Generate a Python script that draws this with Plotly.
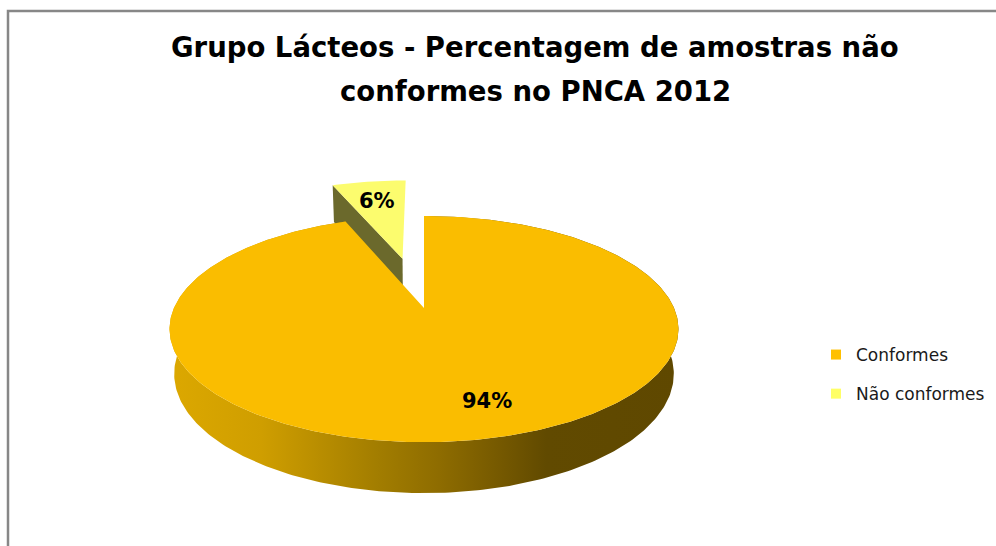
import numpy as np
import plotly.graph_objects as go

# ---------------- data ----------------
categories = ["Conformes", "Não conformes"]
values = [94, 6]
label_texts = ["94%", "6%"]
explode = [0.0, 0.5]

title_lines = ["Grupo Lácteos - Percentagem de amostras não",
               "conformes no PNCA 2012"]

# ---------------- styles ----------------
top_colors = ["#FABD00", "#FCFC6E"]
cut_colors = ["#8A6A00", "#6B692C"]
legend_colors = ["#FFC000", "#FFFF66"]
wall_scale = [[0.0, "#DCA800"], [0.18, "#CF9E00"], [0.41, "#A27D00"],
              [0.53, "#8E6C00"], [0.66, "#735700"], [0.74, "#614A00"],
              [1.0, "#5F4800"]]
FONT = "DejaVu Sans"

# camera / projection (pixel space)
W, Hh = 996, 546
ALPHA = np.radians(25.9)
DIST = 4.834
FOC = 1208.6
CX, CY = 424, 308
THICK = 0.199
label_r = [0.75, 0.72]
label_shift = [(22, 0), (0, 0)]
title_y = [47, 91]


def proj(X, Y, Z):
    s, c = np.sin(ALPHA), np.cos(ALPHA)
    yc = Y * c - Z * s
    depth = DIST - (Y * s + Z * c)
    return CX + FOC * X / depth, CY - FOC * yc / depth


def direction(phi):
    return np.sin(phi), -np.cos(phi)


total = float(sum(values))
bounds = np.concatenate([[0], np.cumsum(values)]) / total * 2 * np.pi

fig = go.Figure()


def slice_parts(k):
    a0, a1 = bounds[k], bounds[k + 1]
    mid = (a0 + a1) / 2
    mx, mz = direction(mid)
    ox, oz = explode[k] * mx, explode[k] * mz
    phis = np.linspace(a0, a1, max(8, int((a1 - a0) / (2 * np.pi) * 400)))
    rx, rz = direction(phis)
    return a0, a1, mid, ox, oz, phis, rx, rz


# small (exploded) slice first -- it is behind
order = [1, 0]
for k in order:
    a0, a1, mid, ox, oz, phis, rx, rz = slice_parts(k)
    if k == 1:
        # visible radial cut face at start angle a0
        ex, ez = direction(a0)
        px = [ox, ox + ex, ox + ex, ox, ox]
        py = [0, 0, -THICK, -THICK, 0]
        pz = [oz, oz + ez, oz + ez, oz, oz]
        sx, sy = proj(np.array(px), np.array(py), np.array(pz))
        fig.add_trace(go.Scatter(x=sx, y=sy, mode="lines", fill="toself",
                                 fillcolor=cut_colors[k], line=dict(width=0),
                                 hoverinfo="skip", showlegend=False))
    else:
        # outer wall
        tx, ty = proj(ox + rx, 0 * rx, oz + rz)
        bx, by = proj(ox + rx, 0 * rx - THICK, oz + rz)
        wx = np.concatenate([tx, bx[::-1], tx[:1]])
        wy = np.concatenate([ty, by[::-1], ty[:1]])
        fig.add_trace(go.Scatter(x=wx, y=wy, mode="lines", fill="toself",
                                 fillgradient=dict(type="horizontal", colorscale=wall_scale),
                                 line=dict(width=0), hoverinfo="skip", showlegend=False))
    # top face
    fx = np.concatenate([[ox], ox + rx, [ox]])
    fz = np.concatenate([[oz], oz + rz, [oz]])
    sx, sy = proj(fx, 0 * fx, fz)
    fig.add_trace(go.Scatter(x=sx, y=sy, mode="lines", fill="toself",
                             fillcolor=top_colors[k], line=dict(width=0),
                             hoverinfo="skip", showlegend=False))

# data labels
for k in range(len(values)):
    a0, a1 = bounds[k], bounds[k + 1]
    mid = (a0 + a1) / 2
    mx, mz = direction(mid)
    rr = label_r[k] + explode[k]
    lx, ly = proj(rr * mx, 0.0, rr * mz)
    fig.add_annotation(x=lx, y=ly, text=label_texts[k], showarrow=False,
                       xshift=label_shift[k][0], yshift=label_shift[k][1],
                       font=dict(family=FONT, size=21, color="#000000", weight="bold"))

# title (two lines, Excel-like spacing)
for line, yy in zip(title_lines, title_y):
    fig.add_annotation(x=535, y=yy, text=line, showarrow=False,
                       xanchor="center", yanchor="middle",
                       font=dict(family=FONT, size=27.5, color="#000000", weight="bold"))

# legend entries
for k, name in enumerate(categories):
    fig.add_trace(go.Scatter(x=[None], y=[None], mode="markers", name=name,
                             legendgroup=name,
                             marker=dict(symbol="square", size=10, color=legend_colors[k])))

# chart frame
fig.add_shape(type="rect", xref="paper", yref="paper", x0=8 / W, x1=1.05,
              y0=-0.05, y1=1 - 11 / Hh, line=dict(color="#878787", width=2.5),
              layer="below")

fig.update_layout(
    width=W, height=Hh,
    margin=dict(l=0, r=0, t=0, b=0),
    paper_bgcolor="white", plot_bgcolor="white",
    xaxis=dict(range=[0, W], visible=False, fixedrange=True),
    yaxis=dict(range=[Hh, 0], visible=False, fixedrange=True),
    showlegend=True,
    legend=dict(x=816 / W, xanchor="left", y=1 - 337 / Hh, yanchor="top",
                traceorder="grouped", tracegroupgap=14,
                font=dict(family=FONT, size=17, color="#1a1a1a"),
                bgcolor="rgba(0,0,0,0)"),
)

fig.write_html("out.html")
